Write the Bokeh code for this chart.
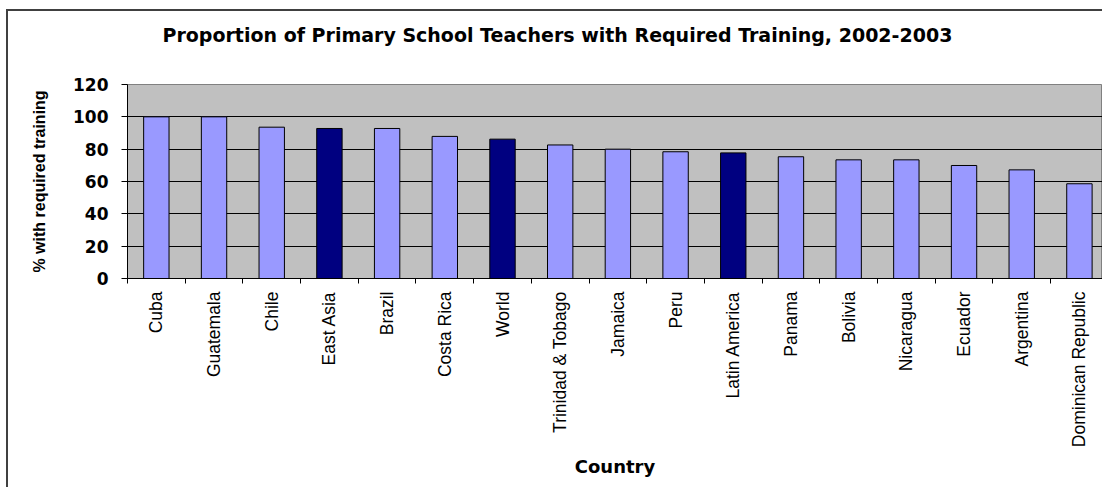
import math
from bokeh.plotting import figure
from bokeh.models import Range1d, FixedTicker, Title, ColumnDataSource
from bokeh.embed import file_html
from bokeh.resources import INLINE

# ---- data ----
categories = ["Cuba", "Guatemala", "Chile", "East Asia", "Brazil", "Costa Rica", "World",
              "Trinidad & Tobago", "Jamaica", "Peru", "Latin America", "Panama", "Bolivia",
              "Nicaragua", "Ecuador", "Argentina", "Dominican Republic"]
values = [100, 100, 93.6, 92.8, 92.8, 87.9, 86.2, 82.6, 80, 78.4, 77.7, 75.3, 73.4, 73.4,
          69.9, 67.2, 58.6]
regions = ["East Asia", "World", "Latin America"]
yticks = [0, 20, 40, 60, 80, 100, 120]
title_text = "Proportion of Primary School Teachers with Required Training, 2002-2003"

LIGHT = "#9999FF"
DARK = "#000080"

xs = list(range(len(categories)))
colors = [DARK if c in regions else LIGHT for c in categories]
src = ColumnDataSource(dict(x=xs, top=values, color=colors, name=categories))

p = figure(width=1102, height=487, output_backend="svg", toolbar_location=None, title=None,
           x_range=Range1d(-0.5, len(categories) - 0.6), y_range=Range1d(0, 120),
           min_border_left=127, min_border_right=0, min_border_top=84, min_border_bottom=209,
           background_fill_color="#C0C0C0", border_fill_color="white", border_fill_alpha=0,
           outline_line_color="#808080", outline_line_width=1)
p.styles = {
    "background-color": "white",
    "background-image": "linear-gradient(#404040, #404040), linear-gradient(#404040, #404040)",
    "background-size": "2px 100%, 100% 2px",
    "background-position": "6px 9px, 6px 9px",
    "background-repeat": "no-repeat",
}

p.vbar(x="x", top="top", width=0.44, fill_color="color", line_color="#000000",
       line_width=1, source=src)

# spacer between the title and the plot area, then the title itself
p.add_layout(Title(text=" ", standoff=26, text_font_size="1px"), "above")
p.add_layout(Title(text=title_text, align="left", offset=35, standoff=20,
                   text_font="DejaVu Sans", text_font_style="bold",
                   text_font_size="19px", text_color="#000000"), "above")

# grid
p.xgrid.visible = False
p.ygrid.ticker = FixedTicker(ticks=yticks[1:-1])
p.ygrid.grid_line_color = "#000000"
p.ygrid.grid_line_alpha = 1
p.ygrid.grid_line_width = 1

# x axis
xa = p.xaxis[0]
xa.ticker = FixedTicker(ticks=xs, minor_ticks=[i - 0.5 for i in range(len(categories) + 1)])
xa.major_label_overrides = {i: c for i, c in zip(xs, categories)}
xa.major_label_orientation = math.pi / 2
xa.major_tick_line_color = None
xa.major_tick_out = 0
xa.major_tick_in = 0
xa.minor_tick_line_color = "#000000"
xa.minor_tick_out = 5
xa.minor_tick_in = 0
xa.major_label_standoff = 8
xa.major_label_text_font = "Liberation Sans"
xa.major_label_text_font_size = "17.5px"
xa.major_label_text_color = "#000000"
xa.axis_line_color = "#000000"
xa.axis_label = "Country"
xa.axis_label_text_font = "DejaVu Sans"
xa.axis_label_text_font_style = "bold"
xa.axis_label_text_font_size = "18px"
xa.axis_label_text_color = "#000000"
xa.axis_label_standoff = 6

# y axis
ya = p.yaxis[0]
ya.ticker = FixedTicker(ticks=yticks)
ya.minor_tick_line_color = None
ya.major_tick_out = 6
ya.major_tick_in = 0
ya.major_tick_line_color = "#000000"
ya.axis_line_color = "#000000"
ya.major_label_standoff = 13
ya.major_label_text_font = "DejaVu Sans"
ya.major_label_text_font_style = "bold"
ya.major_label_text_font_size = "17px"
ya.major_label_text_color = "#000000"
ya.axis_label = "% with required training"
ya.axis_label_text_font = "Liberation Sans"
ya.axis_label_text_font_style = "bold"
ya.axis_label_text_font_size = "16px"
ya.axis_label_text_color = "#000000"
ya.axis_label_standoff = 22

open("out.html", "w").write(file_html(p, INLINE))
